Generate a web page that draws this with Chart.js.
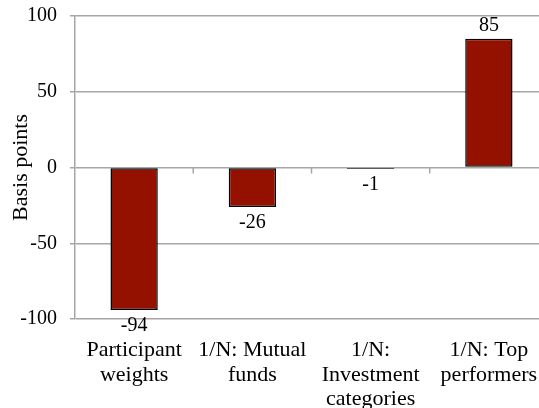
<!DOCTYPE html>
<html>
<head>
<meta charset="utf-8">
<script src="https://cdn.jsdelivr.net/npm/chart.js@4"></script>
<style>
  html, body { margin: 0; padding: 0; background: #fff; overflow: hidden; }
  #wrap { width: 550px; height: 408px; }
</style>
</head>
<body>
<div id="wrap"><canvas id="chart" width="550" height="408"></canvas></div>
<script>
const categories = [
    ['Participant', 'weights'],
    ['1/N: Mutual', 'funds'],
    ['1/N:', 'Investment', 'categories'],
    ['1/N: Top', 'performers']
];
const basisPoints = [-94, -26, -1, 85];
const yTicks = [-100, -50, 0, 50, 100];

const serif = '"Liberation Serif", "Times New Roman", serif';

// value labels + small ticks on the zero line
const barExtras = {
    id: 'barExtras',
    afterDatasetsDraw(chart) {
        const ctx = chart.ctx;
        const x = chart.scales.x;
        const y = chart.scales.y;
        const zero = y.getPixelForValue(0);

        ctx.save();
        ctx.strokeStyle = '#a6a6a6';
        ctx.lineWidth = 1.5;
        for (let i = 1; i < categories.length; i++) {
            const px = x.getPixelForValue(i - 0.5);
            ctx.beginPath();
            ctx.moveTo(px, zero);
            ctx.lineTo(px, zero + 6);
            ctx.stroke();
        }

        ctx.fillStyle = '#000';
        ctx.font = '20px ' + serif;
        ctx.textAlign = 'center';
        chart.getDatasetMeta(0).data.forEach((bar, i) => {
            const v = basisPoints[i];
            if (v < 0) {
                ctx.textBaseline = 'top';
                ctx.fillText(String(v), bar.x, bar.y + 6);
            } else {
                ctx.textBaseline = 'bottom';
                ctx.fillText(String(v), bar.x, bar.y - 3);
            }
        });
        ctx.restore();
    }
};

new Chart(document.getElementById('chart').getContext('2d'), {
    type: 'bar',
    data: {
        labels: categories,
        datasets: [{
            data: basisPoints,
            backgroundColor: '#941100',
            borderColor: '#000',
            borderWidth: 1.5,
            borderSkipped: false,
            categoryPercentage: 1,
            barPercentage: 0.4
        }]
    },
    options: {
        responsive: false,
        animation: false,
        layout: { padding: { top: 16, right: 2, left: 0, bottom: 0 } },
        plugins: {
            legend: { display: false },
            tooltip: { enabled: false }
        },
        scales: {
            x: {
                offset: true,
                grid: { display: false },
                border: { display: false },
                ticks: {
                    color: '#000',
                    font: { family: serif, size: 22, lineHeight: 1.12 },
                    padding: 11,
                    maxRotation: 0,
                    autoSkip: false
                },
                afterFit(scale) { scale.height = 89; }
            },
            y: {
                min: -100,
                max: 100,
                afterBuildTicks(scale) {
                    scale.ticks = yTicks.map(v => ({ value: v }));
                },
                grid: {
                    color: '#a6a6a6',
                    lineWidth: 1.5,
                    tickLength: 5
                },
                border: { color: '#a6a6a6', width: 1.5 },
                ticks: {
                    color: '#000',
                    font: { family: serif, size: 20 },
                    padding: 13
                },
                title: {
                    display: true,
                    text: 'Basis points',
                    color: '#000',
                    font: { family: serif, size: 22 },
                    padding: { top: 8, bottom: 0 }
                },
                afterFit(scale) {
                    scale.width = 75;
                    scale.paddingTop = 0;
                    scale.paddingBottom = 0;
                }
            }
        }
    },
    plugins: [barExtras]
});
</script>
</body>
</html>
